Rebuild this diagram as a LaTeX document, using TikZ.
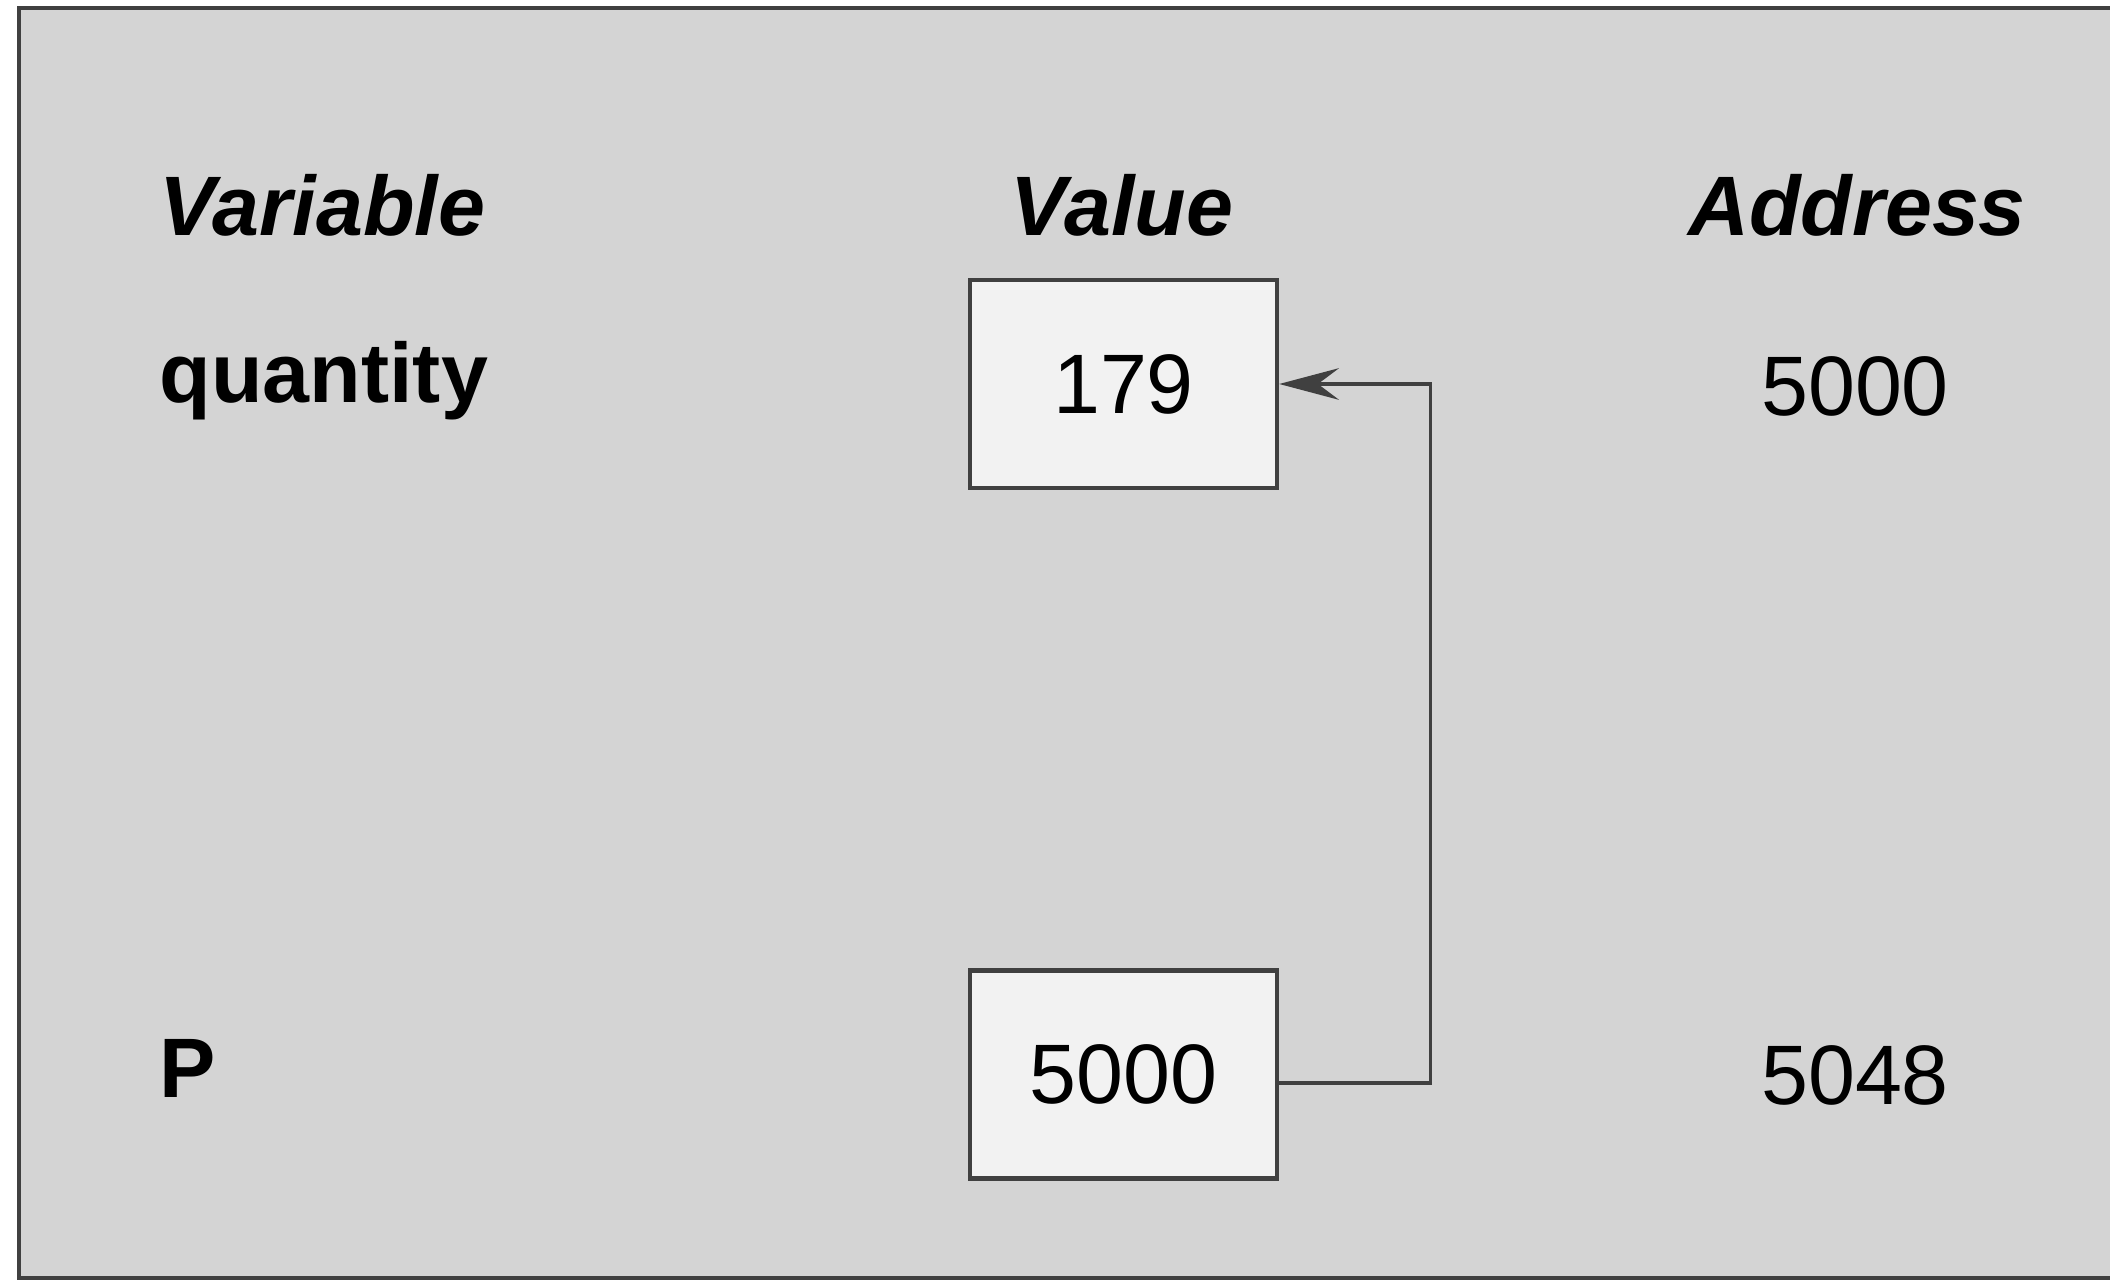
\documentclass[tikz,border=0pt]{standalone}
\usepackage{fontspec}
\setmainfont{Liberation Sans}
\usepackage{tikz}
\usepackage{xcolor}
\usetikzlibrary{arrows.meta, positioning}

\definecolor{panel}{HTML}{D4D4D4}
\definecolor{cell}{HTML}{F2F2F2}
\definecolor{ink}{HTML}{404040}

\begin{document}
\begin{tikzpicture}[x=0.01cm, y=-0.01cm,
    txt/.style={inner sep=0, font=\fontsize{24}{28}\selectfont},
    head/.style={txt, font=\fontsize{24}{28}\selectfont\bfseries\itshape},
    var/.style={txt, font=\fontsize{24}{28}\selectfont\bfseries, anchor=base west},
    cellbox/.style={draw=ink, line width=1.2pt, fill=cell, minimum width=3.07cm, minimum height=2.08cm, inner sep=0, font=\fontsize{24}{28}\selectfont},
    link/.style={draw=ink, line width=0.9pt, -{Stealth[length=17pt, width=9pt, inset=6pt]}}]
    \useasboundingbox (0,0) rectangle (2110,1280);
    \fill[panel] (19,8) rectangle (2110,1278);
    \draw[ink, line width=1.1pt] (2110,8) -- (19,8) -- (19,1278) -- (2110,1278);
    % column heads
    \node[head, anchor=base west] (hvar) at (159,236) {Variable};
    \node[head, anchor=base] (hval) at (1122,236) {Value};
    \node[head, anchor=base] (hadr) at (1857,236) {Address};
    % variables
    \node[var] (quantity) at (159,403) {quantity};
    \node[var] (p) at (159,1097) {P};
    \node[cellbox] (val) at (1123.5,384) {179};
    \node[cellbox] (ptr) at (1123.5,1074.5) {5000};
    \node[txt, anchor=base] (adrq) at (1855,416) {5000};
    \node[txt, anchor=base] (adrp) at (1855,1104) {5048};
    \draw[link] ([yshift=-0.085cm]ptr.east) -- ++(151,0) |- (val.east);
\end{tikzpicture}
\end{document}
